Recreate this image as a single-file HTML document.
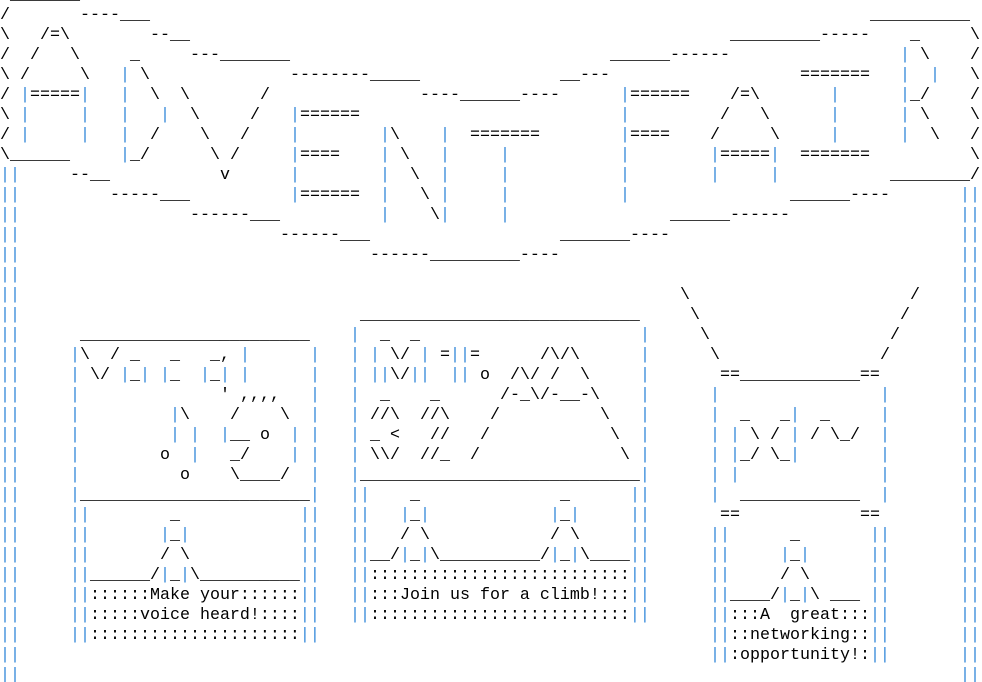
<!DOCTYPE html>
<html><head><meta charset="utf-8"><style>
html,body{margin:0;padding:0;background:#fff;width:982px;height:682px;overflow:hidden;position:relative}
#w{position:absolute;left:0;top:3px;width:982px;height:682px}
.r{position:absolute;left:0;height:20px;width:982px}
i{font-style:normal;position:absolute;top:0;white-space:pre;font-family:"Liberation Mono",monospace;font-size:16.667px;line-height:20px;color:#000}
b{font-weight:normal;color:#3b8ddb}
</style></head><body><div id="w">
<div class="r" style="top:-17px"><i style="left:10px">_______</i></div>
<div class="r" style="top:3px"><i style="left:0">/</i><i style="left:80px">----___</i><i style="left:870px">__________</i></div>
<div class="r" style="top:23px"><i style="left:0">\</i><i style="left:40px">/=\</i><i style="left:150px">--__</i><i style="left:730px">_________-----</i><i style="left:910px">_</i><i style="left:970px">\</i></div>
<div class="r" style="top:43px"><i style="left:0">/</i><i style="left:30px">/</i><i style="left:70px">\</i><i style="left:130px">_</i><i style="left:190px">---_______</i><i style="left:610px">______------</i><i style="left:900px"><b>|</b></i><i style="left:920px">\</i><i style="left:970px">/</i></div>
<div class="r" style="top:63px"><i style="left:0">\</i><i style="left:20px">/</i><i style="left:80px">\</i><i style="left:120px"><b>|</b></i><i style="left:140px">\</i><i style="left:290px">--------_____</i><i style="left:560px">__---</i><i style="left:800px">=======</i><i style="left:900px"><b>|</b></i><i style="left:930px"><b>|</b></i><i style="left:970px">\</i></div>
<div class="r" style="top:83px"><i style="left:0">/</i><i style="left:20px"><b>|</b>=====<b>|</b></i><i style="left:120px"><b>|</b></i><i style="left:150px">\</i><i style="left:180px">\</i><i style="left:260px">/</i><i style="left:420px">----______----</i><i style="left:620px"><b>|</b>======</i><i style="left:730px">/=\</i><i style="left:830px"><b>|</b></i><i style="left:900px"><b>|</b>_/</i><i style="left:970px">/</i></div>
<div class="r" style="top:103px"><i style="left:0">\</i><i style="left:20px"><b>|</b></i><i style="left:80px"><b>|</b></i><i style="left:120px"><b>|</b></i><i style="left:160px"><b>|</b></i><i style="left:190px">\</i><i style="left:250px">/</i><i style="left:290px"><b>|</b>======</i><i style="left:620px"><b>|</b></i><i style="left:720px">/</i><i style="left:760px">\</i><i style="left:830px"><b>|</b></i><i style="left:900px"><b>|</b></i><i style="left:920px">\</i><i style="left:970px">\</i></div>
<div class="r" style="top:123px"><i style="left:0">/</i><i style="left:20px"><b>|</b></i><i style="left:80px"><b>|</b></i><i style="left:120px"><b>|</b></i><i style="left:150px">/</i><i style="left:200px">\</i><i style="left:240px">/</i><i style="left:290px"><b>|</b></i><i style="left:380px"><b>|</b>\</i><i style="left:440px"><b>|</b></i><i style="left:470px">=======</i><i style="left:620px"><b>|</b>====</i><i style="left:710px">/</i><i style="left:770px">\</i><i style="left:830px"><b>|</b></i><i style="left:900px"><b>|</b></i><i style="left:930px">\</i><i style="left:970px">/</i></div>
<div class="r" style="top:143px"><i style="left:0">\______</i><i style="left:120px"><b>|</b>_/</i><i style="left:210px">\</i><i style="left:230px">/</i><i style="left:290px"><b>|</b>====</i><i style="left:380px"><b>|</b></i><i style="left:400px">\</i><i style="left:440px"><b>|</b></i><i style="left:500px"><b>|</b></i><i style="left:620px"><b>|</b></i><i style="left:710px"><b>|</b>=====<b>|</b></i><i style="left:800px">=======</i><i style="left:970px">\</i></div>
<div class="r" style="top:163px"><i style="left:0"><b>||</b></i><i style="left:70px">--__</i><i style="left:220px">v</i><i style="left:290px"><b>|</b></i><i style="left:380px"><b>|</b></i><i style="left:410px">\</i><i style="left:440px"><b>|</b></i><i style="left:500px"><b>|</b></i><i style="left:620px"><b>|</b></i><i style="left:710px"><b>|</b></i><i style="left:770px"><b>|</b></i><i style="left:890px">________/</i></div>
<div class="r" style="top:183px"><i style="left:0"><b>||</b></i><i style="left:110px">-----___</i><i style="left:290px"><b>|</b>======</i><i style="left:380px"><b>|</b></i><i style="left:420px">\</i><i style="left:440px"><b>|</b></i><i style="left:500px"><b>|</b></i><i style="left:620px"><b>|</b></i><i style="left:790px">______----</i><i style="left:960px"><b>||</b></i></div>
<div class="r" style="top:203px"><i style="left:0"><b>||</b></i><i style="left:190px">------___</i><i style="left:380px"><b>|</b></i><i style="left:430px">\<b>|</b></i><i style="left:500px"><b>|</b></i><i style="left:670px">______------</i><i style="left:960px"><b>||</b></i></div>
<div class="r" style="top:223px"><i style="left:0"><b>||</b></i><i style="left:280px">------___</i><i style="left:560px">_______----</i><i style="left:960px"><b>||</b></i></div>
<div class="r" style="top:243px"><i style="left:0"><b>||</b></i><i style="left:370px">------_________----</i><i style="left:960px"><b>||</b></i></div>
<div class="r" style="top:263px"><i style="left:0"><b>||</b></i><i style="left:960px"><b>||</b></i></div>
<div class="r" style="top:283px"><i style="left:0"><b>||</b></i><i style="left:680px">\</i><i style="left:910px">/</i><i style="left:960px"><b>||</b></i></div>
<div class="r" style="top:303px"><i style="left:0"><b>||</b></i><i style="left:360px">____________________________</i><i style="left:690px">\</i><i style="left:900px">/</i><i style="left:960px"><b>||</b></i></div>
<div class="r" style="top:323px"><i style="left:0"><b>||</b></i><i style="left:80px">_______________________</i><i style="left:350px"><b>|</b></i><i style="left:380px">_</i><i style="left:410px">_</i><i style="left:640px"><b>|</b></i><i style="left:700px">\</i><i style="left:890px">/</i><i style="left:960px"><b>||</b></i></div>
<div class="r" style="top:343px"><i style="left:0"><b>||</b></i><i style="left:70px"><b>|</b>\  /</i><i style="left:130px">_</i><i style="left:170px">_</i><i style="left:210px">_,</i><i style="left:240px"><b>|</b></i><i style="left:310px"><b>|</b></i><i style="left:350px"><b>|</b> <b>|</b> \/ <b>|</b> =<b>||</b>=</i><i style="left:540px">/\/\</i><i style="left:640px"><b>|</b></i><i style="left:710px">\</i><i style="left:880px">/</i><i style="left:960px"><b>||</b></i></div>
<div class="r" style="top:363px"><i style="left:0"><b>||</b></i><i style="left:70px"><b>|</b></i><i style="left:90px">\/</i><i style="left:120px"><b>|</b>_<b>|</b></i><i style="left:160px"><b>|</b>_</i><i style="left:200px"><b>|</b>_<b>|</b></i><i style="left:240px"><b>|</b></i><i style="left:310px"><b>|</b></i><i style="left:350px"><b>|</b> <b>||</b>\/<b>||</b>  <b>||</b> o</i><i style="left:510px">/\/ /  \</i><i style="left:640px"><b>|</b></i><i style="left:720px">==____________==</i><i style="left:960px"><b>||</b></i></div>
<div class="r" style="top:383px"><i style="left:0"><b>||</b></i><i style="left:70px"><b>|</b></i><i style="left:220px">' ,,,,</i><i style="left:310px"><b>|</b></i><i style="left:350px"><b>|</b></i><i style="left:380px">_</i><i style="left:430px">_</i><i style="left:500px">/-_\/-__-\</i><i style="left:640px"><b>|</b></i><i style="left:710px"><b>|</b></i><i style="left:880px"><b>|</b></i><i style="left:960px"><b>||</b></i></div>
<div class="r" style="top:403px"><i style="left:0"><b>||</b></i><i style="left:70px"><b>|</b></i><i style="left:170px"><b>|</b>\</i><i style="left:230px">/</i><i style="left:280px">\</i><i style="left:310px"><b>|</b></i><i style="left:350px"><b>|</b> //\  //\</i><i style="left:490px">/</i><i style="left:600px">\</i><i style="left:640px"><b>|</b></i><i style="left:710px"><b>|</b></i><i style="left:740px">_</i><i style="left:780px">_<b>|</b></i><i style="left:820px">_</i><i style="left:880px"><b>|</b></i><i style="left:960px"><b>||</b></i></div>
<div class="r" style="top:423px"><i style="left:0"><b>||</b></i><i style="left:70px"><b>|</b></i><i style="left:170px"><b>|</b> <b>|</b>  <b>|</b>__ o  <b>|</b> <b>|</b></i><i style="left:350px"><b>|</b> _ &lt;   //   /</i><i style="left:610px">\</i><i style="left:640px"><b>|</b></i><i style="left:710px"><b>|</b> <b>|</b> \ / <b>|</b> / \_/</i><i style="left:880px"><b>|</b></i><i style="left:960px"><b>||</b></i></div>
<div class="r" style="top:443px"><i style="left:0"><b>||</b></i><i style="left:70px"><b>|</b></i><i style="left:160px">o  <b>|</b>   _/    <b>|</b> <b>|</b></i><i style="left:350px"><b>|</b> \\/  //_  /</i><i style="left:620px">\ <b>|</b></i><i style="left:710px"><b>|</b> <b>|</b>_/ \_<b>|</b></i><i style="left:880px"><b>|</b></i><i style="left:960px"><b>||</b></i></div>
<div class="r" style="top:463px"><i style="left:0"><b>||</b></i><i style="left:70px"><b>|</b></i><i style="left:180px">o    \____/  <b>|</b></i><i style="left:350px"><b>|</b>____________________________<b>|</b></i><i style="left:710px"><b>|</b> <b>|</b></i><i style="left:880px"><b>|</b></i><i style="left:960px"><b>||</b></i></div>
<div class="r" style="top:483px"><i style="left:0"><b>||</b></i><i style="left:70px"><b>|</b>_______________________<b>|</b></i><i style="left:350px"><b>||</b></i><i style="left:410px">_</i><i style="left:560px">_</i><i style="left:630px"><b>||</b></i><i style="left:710px"><b>|</b></i><i style="left:740px">____________</i><i style="left:880px"><b>|</b></i><i style="left:960px"><b>||</b></i></div>
<div class="r" style="top:503px"><i style="left:0"><b>||</b></i><i style="left:70px"><b>||</b></i><i style="left:170px">_</i><i style="left:300px"><b>||</b></i><i style="left:350px"><b>||</b></i><i style="left:400px"><b>|</b>_<b>|</b></i><i style="left:550px"><b>|</b>_<b>|</b></i><i style="left:630px"><b>||</b></i><i style="left:720px">==</i><i style="left:860px">==</i><i style="left:960px"><b>||</b></i></div>
<div class="r" style="top:523px"><i style="left:0"><b>||</b></i><i style="left:70px"><b>||</b></i><i style="left:160px"><b>|</b>_<b>|</b></i><i style="left:300px"><b>||</b></i><i style="left:350px"><b>||</b></i><i style="left:400px">/ \</i><i style="left:550px">/ \</i><i style="left:630px"><b>||</b></i><i style="left:710px"><b>||</b></i><i style="left:790px">_</i><i style="left:870px"><b>||</b></i><i style="left:960px"><b>||</b></i></div>
<div class="r" style="top:543px"><i style="left:0"><b>||</b></i><i style="left:70px"><b>||</b></i><i style="left:160px">/ \</i><i style="left:300px"><b>||</b></i><i style="left:350px"><b>||</b>__/<b>|</b>_<b>|</b>\__________/<b>|</b>_<b>|</b>\____<b>||</b></i><i style="left:710px"><b>||</b></i><i style="left:780px"><b>|</b>_<b>|</b></i><i style="left:870px"><b>||</b></i><i style="left:960px"><b>||</b></i></div>
<div class="r" style="top:563px"><i style="left:0"><b>||</b></i><i style="left:70px"><b>||</b>______/<b>|</b>_<b>|</b>\__________<b>||</b></i><i style="left:350px"><b>||</b>::::::::::::::::::::::::::<b>||</b></i><i style="left:710px"><b>||</b></i><i style="left:780px">/ \</i><i style="left:870px"><b>||</b></i><i style="left:960px"><b>||</b></i></div>
<div class="r" style="top:583px"><i style="left:0"><b>||</b></i><i style="left:70px"><b>||</b>::::::Make your::::::<b>||</b></i><i style="left:350px"><b>||</b>:::Join us for a climb!:::<b>||</b></i><i style="left:710px"><b>||</b>____/<b>|</b>_<b>|</b>\ ___ <b>||</b></i><i style="left:960px"><b>||</b></i></div>
<div class="r" style="top:603px"><i style="left:0"><b>||</b></i><i style="left:70px"><b>||</b>:::::voice heard!::::<b>||</b></i><i style="left:350px"><b>||</b>::::::::::::::::::::::::::<b>||</b></i><i style="left:710px"><b>||</b>:::A  great:::<b>||</b></i><i style="left:960px"><b>||</b></i></div>
<div class="r" style="top:623px"><i style="left:0"><b>||</b></i><i style="left:70px"><b>||</b>:::::::::::::::::::::<b>||</b></i><i style="left:710px"><b>||</b>::networking::<b>||</b></i><i style="left:960px"><b>||</b></i></div>
<div class="r" style="top:643px"><i style="left:0"><b>||</b></i><i style="left:710px"><b>||</b>:opportunity!:<b>||</b></i><i style="left:960px"><b>||</b></i></div>
<div class="r" style="top:663px"><i style="left:0"><b>||</b></i><i style="left:960px"><b>||</b></i></div>
</div></body></html>
